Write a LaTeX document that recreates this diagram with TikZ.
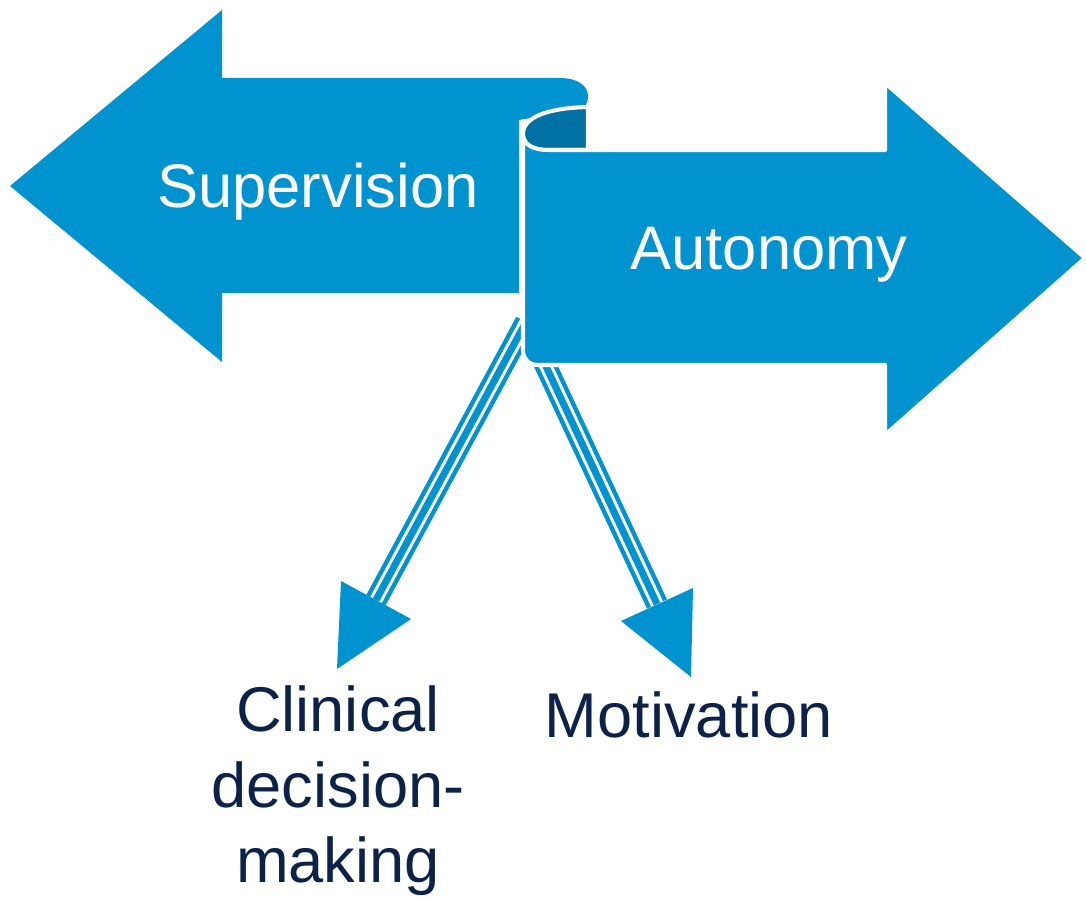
\documentclass[tikz,border=0pt]{standalone}
\usepackage{fontspec}
\setmainfont{Liberation Sans}
\definecolor{skyblue}{RGB}{0,147,208}
\definecolor{rollblue}{RGB}{0,113,163}
\definecolor{navy}{RGB}{12,34,72}

\begin{document}
\begin{tikzpicture}[
  x=0.02cm, y=-0.02cm,
  banner/.style={fill=skyblue},
  front/.style={fill=skyblue,draw=white,line width=2.3pt,line join=round},
  roll/.style={fill=rollblue,draw=white,line width=2.3pt,line join=round},
  shaft/.style={draw=skyblue,line width=12.5pt},
  gap/.style={draw=white,line width=1.7pt,double=skyblue,double distance=4pt},
  bannertext/.style={text=white,inner sep=0pt,anchor=base,font=\fontsize{35}{42}\selectfont},
  outcome/.style={text=navy,inner sep=0pt,align=center,font=\fontsize{36}{43.2}\selectfont}
]
  \useasboundingbox (0,0) rectangle (1086,898);

  % left banner, its end rolls over into the right one
  \fill[banner] (10,186) -- (222,10) -- (222,78) -- (560,78)
    .. controls (578,78) and (588,86) .. (588,96)
    .. controls (588,104) and (585,108) .. (579,110)
    -- (519,120) -- (519,293) -- (222,293) -- (222,362) -- cycle;

  % striped arrows
  \coordinate (cdmstart) at (526,322);
  \coordinate (cdmbase) at (376,600);
  \coordinate (motstart) at (536,345);
  \coordinate (motbase) at (657,604);
  \foreach \a/\b in {cdmstart/cdmbase, motstart/motbase} {
    \draw[shaft] (\a) -- (\b);
    \draw[gap] (\a) -- (\b);
  }
  \fill[banner] (341,581) -- (411,619) -- (337,669) -- cycle;
  \fill[banner] (621,621) -- (693,588) -- (691,677) -- cycle;

  % inside of the roll
  \filldraw[roll] (523,134) .. controls (523,117) and (548,108) .. (588,107)
    -- (588,150) -- (548,150) .. controls (532,150) and (523,144) .. (523,134) -- cycle;

  % right banner
  \filldraw[front] (523,134) .. controls (523,144) and (532,150) .. (548,150)
    -- (885,150) -- (885,83) -- (1085,258) -- (885,435) -- (885,365)
    -- (538,365) .. controls (529,365) and (523,359) .. (523,350) -- cycle;

  \node[bannertext] (sup) at (318,208) {Supervision};
  \node[bannertext] (aut) at (769,270) {Autonomy};
  \node[outcome,anchor=north] (cdm) at (338,685) {Clinical\\decision-\\making};
  \node[outcome,anchor=base] (mot) at (689,737) {Motivation};
\end{tikzpicture}
\end{document}
